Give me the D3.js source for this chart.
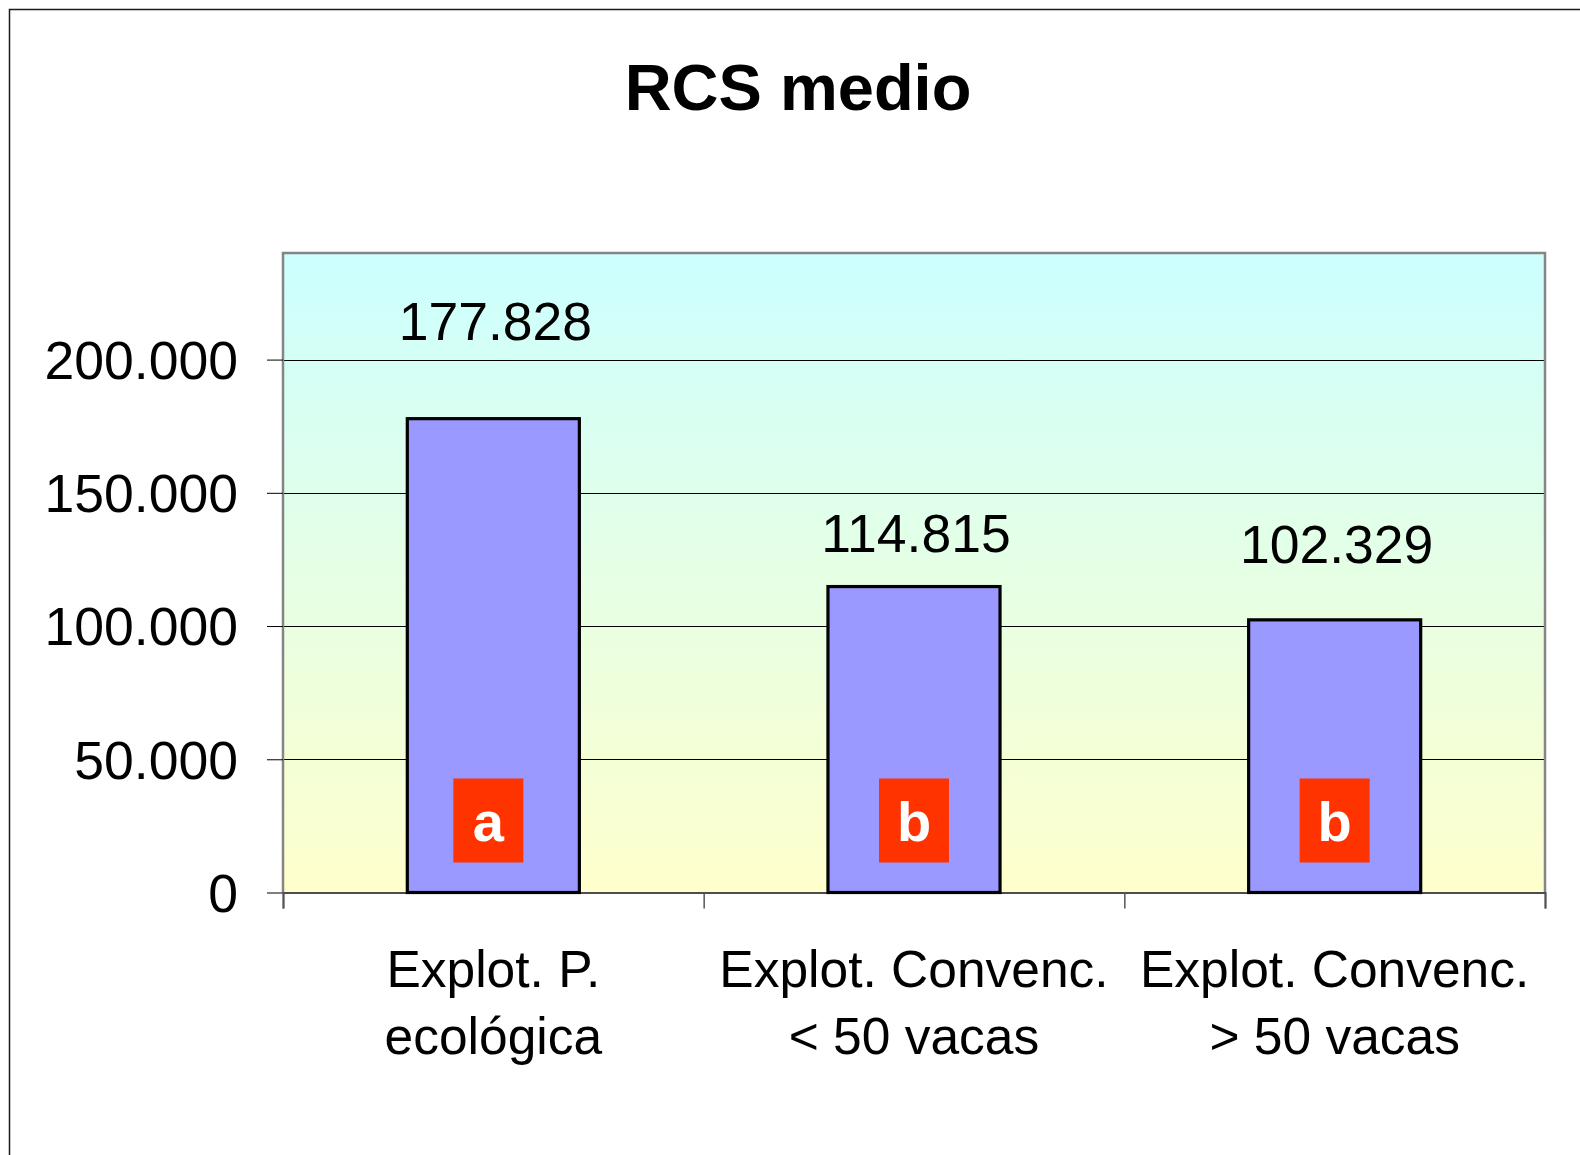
<!DOCTYPE html>
<html>
<head>
<meta charset="utf-8">
<script src="https://cdn.jsdelivr.net/npm/d3@7"></script>
<style>
  body { margin: 0; background: #fff; }
  svg { display: block; font-family: "Liberation Sans", Arial, sans-serif; }
</style>
</head>
<body>
<div id="chart"></div>
<script>
const width = 1580;
const height = 1155;

// data
const categories = ["Explot. P.\necológica", "Explot. Convenc.\n< 50 vacas", "Explot. Convenc.\n> 50 vacas"];
const values = [177828, 114815, 102329];
const groups = ["a", "b", "b"];
const yTicks = [0, 50000, 100000, 150000, 200000];
const yMax = 240000;

// how far each value label sits above its bar (labels were placed by hand)
const labelLift = [79, 35, 57];

const plot = { left: 283, right: 1545, top: 253, bottom: 892.5 };

const svg = d3.select("#chart").append("svg")
    .attr("width", width)
    .attr("height", height);

svg.append("rect")
    .attr("width", width)
    .attr("height", height)
    .attr("fill", "#fff");

// outer frame (only top and left edges fall inside the picture)
svg.append("rect")
    .attr("x", 9.5)
    .attr("y", 9.5)
    .attr("width", width + 20)
    .attr("height", height + 20)
    .attr("fill", "none")
    .attr("stroke", "#1a1a1a")
    .attr("stroke-width", 1.5);

const x = d3.scaleBand()
    .domain(categories)
    .range([plot.left, plot.right]);

const y = d3.scaleLinear()
    .domain([0, yMax])
    .range([plot.bottom, plot.top]);

const esLocale = d3.formatLocale({ decimal: ",", thousands: ".", grouping: [3], currency: ["", ""] });
const fmt = esLocale.format(",d");

// background gradient
const defs = svg.append("defs");
const grad = defs.append("linearGradient")
    .attr("id", "bg-grad")
    .attr("x1", 0).attr("y1", 0)
    .attr("x2", 0).attr("y2", 1);
grad.append("stop").attr("offset", "0%").attr("stop-color", "#ccffff");
grad.append("stop").attr("offset", "100%").attr("stop-color", "#ffffcc");

svg.append("rect")
    .attr("x", plot.left)
    .attr("y", plot.top)
    .attr("width", plot.right - plot.left)
    .attr("height", plot.bottom - plot.top)
    .attr("fill", "url(#bg-grad)");

// gridlines
svg.append("g")
    .selectAll("line")
    .data(yTicks.filter(d => d > 0))
    .join("line")
    .attr("x1", plot.left)
    .attr("x2", plot.right)
    .attr("y1", d => Math.round(y(d)) + 0.5)
    .attr("y2", d => Math.round(y(d)) + 0.5)
    .attr("stroke", "#000")
    .attr("stroke-width", 1);

// plot border: top, left, right in gray
svg.append("path")
    .attr("d", `M${plot.left},${plot.bottom} V${plot.top} H${plot.right} V${plot.bottom}`)
    .attr("fill", "none")
    .attr("stroke", "#858585")
    .attr("stroke-width", 2.5);

// y axis
const yAxis = svg.append("g")
    .attr("transform", `translate(${plot.left},0)`)
    .call(d3.axisLeft(y).tickValues(yTicks).tickSize(16).tickPadding(29).tickFormat(fmt));
yAxis.select(".domain").remove();
yAxis.selectAll(".tick line").attr("stroke", "#000");
yAxis.selectAll(".tick text")
    .attr("fill", "#000")
    .attr("dy", "0.35em")
    .style("font-size", "53.5px")
    .style("font-family", "'Liberation Sans', Arial, sans-serif");

// x axis: ticks on band edges
const xEdges = d3.scaleLinear().domain([0, categories.length]).range([plot.left, plot.right]);
const xAxis = svg.append("g")
    .attr("transform", `translate(0,${plot.bottom})`)
    .call(d3.axisBottom(xEdges).tickValues(d3.range(categories.length + 1)).tickSize(16).tickFormat(""));
xAxis.select(".domain")
    .attr("stroke", "#4d4d4d")
    .attr("stroke-width", 2);
xAxis.selectAll(".tick line").attr("stroke", "#555").attr("stroke-width", 1.5);

// bars
const barW = x.bandwidth() * 0.409;
svg.append("g")
    .selectAll("rect")
    .data(values)
    .join("rect")
    .attr("x", (d, i) => x(categories[i]) + x.bandwidth() / 2 - barW / 2)
    .attr("y", d => y(d))
    .attr("width", barW)
    .attr("height", d => y(0) - y(d))
    .attr("fill", "#9999ff")
    .attr("stroke", "#000")
    .attr("stroke-width", 3.2);

// value labels
svg.append("g")
    .selectAll("text")
    .data(values)
    .join("text")
    .attr("x", (d, i) => x(categories[i]) + x.bandwidth() / 2 + 2)
    .attr("y", (d, i) => y(d) - labelLift[i])
    .attr("text-anchor", "middle")
    .style("font-size", "53.5px")
    .attr("fill", "#000")
    .text(d => fmt(d));

// significance letters in red boxes
const boxW = 70, boxH = 84;
const letterG = svg.append("g")
    .selectAll("g")
    .data(groups)
    .join("g")
    .attr("transform", (d, i) => `translate(${x(categories[i]) + x.bandwidth() / 2 + (i === 0 ? -5 : 0)},${y(0)})`);
letterG.append("rect")
    .attr("x", -boxW / 2)
    .attr("y", -114)
    .attr("width", boxW)
    .attr("height", boxH)
    .attr("fill", "#ff3300");
letterG.append("text")
    .attr("y", -52)
    .attr("text-anchor", "middle")
    .attr("fill", "#fff")
    .style("font-size", "56px")
    .style("font-weight", "bold")
    .text(d => d);

// category labels (two lines each)
const catText = svg.append("g")
    .selectAll("text")
    .data(categories)
    .join("text")
    .attr("x", d => x(d) + x.bandwidth() / 2)
    .attr("y", 987)
    .attr("text-anchor", "middle")
    .style("font-size", "51.5px")
    .attr("fill", "#000");
catText.selectAll("tspan")
    .data(d => d.split("\n").map(s => ({ s, cx: x(d) + x.bandwidth() / 2 })))
    .join("tspan")
    .attr("x", d => d.cx)
    .attr("dy", (d, i) => i === 0 ? 0 : 66.5)
    .text(d => d.s);

// title
svg.append("text")
    .attr("x", 798)
    .attr("y", 110)
    .attr("text-anchor", "middle")
    .style("font-size", "65px")
    .style("font-weight", "bold")
    .attr("fill", "#000")
    .text("RCS medio");
</script>
</body>
</html>
